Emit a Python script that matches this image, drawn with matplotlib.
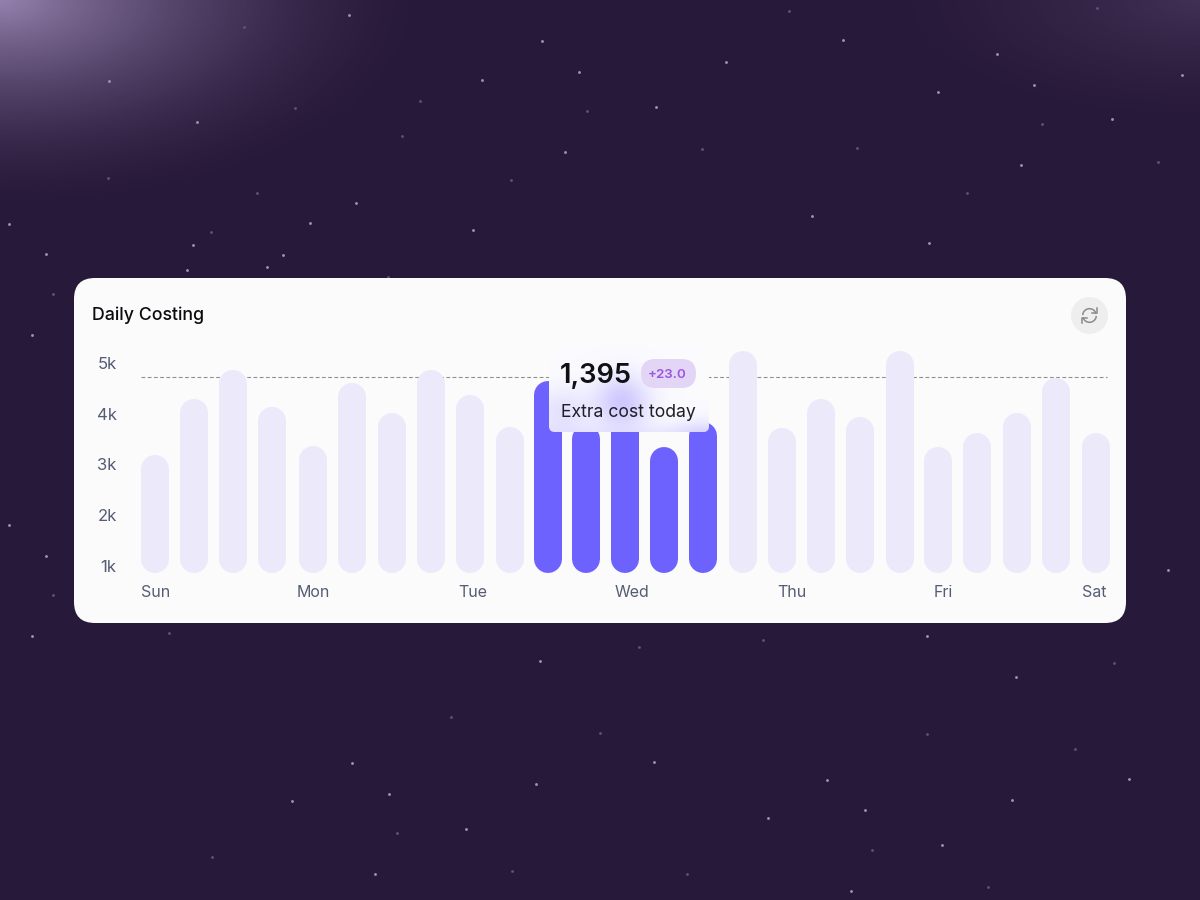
import numpy as np
import matplotlib
matplotlib.use("Agg")
import matplotlib.pyplot as plt
from matplotlib.patches import FancyBboxPatch, Circle

plt.rcParams['font.family'] = ['Inter', 'DejaVu Sans']

# ---------- data ----------
bar_slots = [0, 1, 2, 3, 4.05, 5.05, 6.06, 7.06, 8.07, 9.07,
             10.04, 11.03, 12.03, 13.02, 14.02, 15.03, 16.03, 17.02, 18.02, 19.03,
             20.02, 21.02, 22.02, 23.02, 24.04]
bar_values = [3.19, 4.29, 4.86, 4.13, 3.36, 4.61, 4.01, 4.86, 4.37, 3.74,
              4.65, 3.78, 4.57, 3.34, 3.84, 5.24, 3.72, 4.29, 3.94, 5.24,
              3.34, 3.62, 4.01, 4.70, 3.62]
highlighted = [10, 11, 12, 13, 14]
bar_floor = 0.862
reference_level = 4.72
y_ticks = [1, 2, 3, 4, 5]
y_labels = ["1k", "2k", "3k", "4k", "5k"]
day_ticks = [0.02, 4.06, 8.13, 12.2, 16.28, 20.15, 24.0]
day_labels = ["Sun", "Mon", "Tue", "Wed", "Thu", "Fri", "Sat"]
title = "Daily Costing"
tip_value = "1,395"
tip_delta = "+23.0"
tip_caption = "Extra cost today"

stars_bright = [(349,15),(109,81),(197,122),(356,203),(310,223),(193,245),(9,224),(46,254),
    (283,255),(267,267),(187,270),(542,41),(726,62),(579,72),(482,80),(656,107),(565,152),
    (473,230),(843,40),(997,54),(1182,75),(1034,85),(938,92),(1112,119),(1021,165),(812,216),
    (929,243),(32,636),(352,763),(389,794),(292,801),(375,874),(540,661),(654,762),(536,784),
    (768,818),(466,829),(927,636),(1016,677),(827,780),(1129,779),(1012,800),(865,810),
    (942,845),(851,891),(32,335),(9,525),(46,556),(1168,570)]
stars_dim = [(244,27),(295,108),(108,178),(257,193),(211,232),(388,277),(789,11),(420,101),
    (587,111),(402,136),(702,149),(511,180),(1097,8),(1042,124),(857,148),(1158,162),(967,193),
    (169,633),(397,833),(212,857),(639,647),(763,640),(451,717),(600,733),(512,871),(687,874),
    (1114,663),(927,734),(1075,749),(872,850),(988,887),(53,294),(53,595)]

# ---------- style ----------
BG = "#27193a"
CARD = "#fafbfa"
BAR_LIGHT = "#ebe9fa"
BAR_DARK = "#6e62ff"
W, H = 1200, 900
DPI = 100

fig = plt.figure(figsize=(W / DPI, H / DPI), dpi=DPI, facecolor=BG)

def px_axes(z):
    a = fig.add_axes([0, 0, 1, 1], zorder=z)
    a.set_xlim(0, W)
    a.set_ylim(H, 0)
    a.axis("off")
    a.patch.set_alpha(0)
    return a

# ---------- background ----------
bg = px_axes(0)
xx, yy = np.meshgrid(np.arange(W) + .5, np.arange(H) + .5)
tl = np.clip(1 - np.hypot(xx / 440, yy / 215), 0, 1) ** 1.7 * 0.72
tr = np.clip(1 - np.hypot((W - xx) / 330, yy / 130), 0, 1) ** 1.5 * 0.17
glow = np.zeros((H, W, 4))
glow[..., 0] = 0.76
glow[..., 1] = 0.67
glow[..., 2] = 0.86
glow[..., 3] = np.clip(tl + tr, 0, 1)
bg.imshow(glow, extent=(0, W, H, 0), aspect="auto", interpolation="bilinear", zorder=1)
bg.set_xlim(0, W)
bg.set_ylim(H, 0)
bx, by = zip(*stars_bright)
dx, dy = zip(*stars_dim)
bg.scatter(bx, by, s=4.2, color="#9f96ac", marker="o", linewidths=0, zorder=2)
bg.scatter(dx, dy, s=4.2, color="#5f5371", marker="o", linewidths=0, zorder=2)

# card
R = 21
bg.add_patch(FancyBboxPatch((74 + R, 278 + R), 1052 - 2 * R, 345 - 2 * R,
                            boxstyle=f"round,pad={R},rounding_size={R}",
                            fc=CARD, ec="none", zorder=3))
bg.text(92, 313.5, title, fontsize=12.8, fontweight=500, color="#0c0c10",
        va="center_baseline", ha="left", zorder=4)
bg.add_patch(Circle((1089.5, 315.5), 18.5, fc="#eeeeee", ec="none", zorder=4))

# refresh icon
ic = (1089.5, 315.5)
ICON = "#8b8b8b"
t = np.radians(np.linspace(20, 170, 40))
bg.plot(ic[0] + 6.8 * np.cos(t), ic[1] - 6.8 * np.sin(t), color=ICON, lw=1.1, zorder=5)
t = np.radians(np.linspace(200, 350, 40))
bg.plot(ic[0] + 6.8 * np.cos(t), ic[1] - 6.8 * np.sin(t), color=ICON, lw=1.1, zorder=5)
bg.plot([ic[0] + 7.6, ic[0] + 7.6, ic[0] + 2.6], [ic[1] - 7.5, ic[1] - 2.3, ic[1] - 2.3], color=ICON, lw=1.1, zorder=5)
bg.plot([ic[0] - 7.6, ic[0] - 7.6, ic[0] - 2.6], [ic[1] + 7.5, ic[1] + 2.3, ic[1] + 2.3], color=ICON, lw=1.1, zorder=5)

# ---------- chart ----------
L, Rt, T, B = 130, 1112, 345, 590
ax = fig.add_axes([L / W, 1 - B / H, (Rt - L) / W, (B - T) / H], zorder=1)
ax.patch.set_alpha(0)
X0, DX = 154.5, 39.15
K0, DK = 566, 50.75
ax.set_xlim((L - X0) / DX, (Rt - X0) / DX)
ax.set_ylim(1 + (K0 - B) / DK, 1 + (K0 - T) / DK)
for s in ax.spines.values():
    s.set_visible(False)

lw_pt = 28 * 72 / DPI
cap = 14 / DK
ax.plot([-0.34, 24.33], [reference_level] * 2, color="#8f8f8f", lw=0.8,
        dashes=(3.4, 2.2), zorder=1)
for i, (slot, v) in enumerate(zip(bar_slots, bar_values)):
    c = BAR_DARK if i in highlighted else BAR_LIGHT
    ax.plot([slot, slot], [bar_floor + cap, v - cap], color=c, lw=lw_pt,
            solid_capstyle="round", zorder=2)

ax.set_yticks(y_ticks, y_labels)
ax.set_xticks(day_ticks, day_labels)
ax.tick_params(axis="both", length=0, labelcolor="#555c75")
ax.tick_params(axis="y", pad=9.6, labelsize=12)
ax.tick_params(axis="x", pad=-3.4, labelsize=11.5)

# ---------- tooltip ----------
ov = px_axes(2)
tx0, tx1, ty0, ty1 = 549, 709, 344, 432
tipbox = FancyBboxPatch((tx0 + 6, ty0 + 6), tx1 - tx0 - 12, ty1 - ty0 - 12,
                        boxstyle="round,pad=6,rounding_size=6", fc="#fbfbfe", ec="none", zorder=1)
ov.add_patch(tipbox)
gx, gy = np.meshgrid(np.arange(tx0, tx1) + .5, np.arange(ty0, ty1) + .5)
a = (0.68 * np.exp(-((gx - 622) / 27) ** 2 - ((gy - 402) / 27) ** 2)
     + 0.34 * np.exp(-((gx - 562) / 28) ** 2 - ((gy - 412) / 24) ** 2)
     + 0.38 * np.exp(-((gx - 704) / 30) ** 2 - ((gy - 438) / 18) ** 2)
     + 0.30 * np.exp(-((gy - 440) / 14) ** 2))
tint = np.zeros(gx.shape + (4,))
tint[..., :3] = matplotlib.colors.to_rgb("#b9b2ff")
tint[..., 3] = np.clip(a, 0, 1)
im = ov.imshow(tint, extent=(tx0, tx1, ty1, ty0), aspect="auto", interpolation="bilinear", zorder=2)
im.set_clip_path(tipbox)
ov.set_xlim(0, W)
ov.set_ylim(H, 0)
ov.text(560, 372.8, tip_value, fontsize=19.6, fontweight=600, color="#111114",
        ha="left", va="center_baseline", zorder=3)
pill_r = 14.5
ov.add_patch(FancyBboxPatch((641 + pill_r, 359 + pill_r), 55 - 2 * pill_r, 29 - 2 * pill_r,
                            boxstyle=f"round,pad={pill_r},rounding_size={pill_r}",
                            fc="#e2d5f5", ec="none", zorder=3))
ov.text(667, 373.5, tip_delta, fontsize=9.6, fontweight=600, color="#9a56e0",
        ha="center", va="center_baseline", zorder=4)
ov.text(561, 410.5, tip_caption, fontsize=12.7, fontweight=400, color="#1e1e24",
        ha="left", va="center_baseline", zorder=3)

fig.savefig("out.png", dpi=DPI, facecolor=BG)
